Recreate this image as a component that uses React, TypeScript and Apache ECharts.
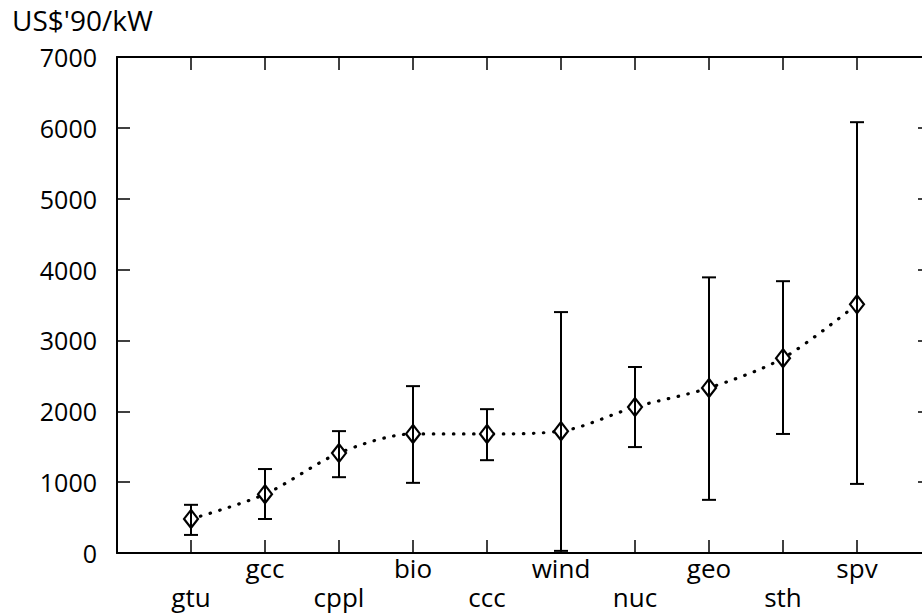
import React, { useEffect, useRef } from "react";
import * as echarts from "echarts";

const categories = ["gtu", "gcc", "cppl", "bio", "ccc", "wind", "nuc", "geo", "sth", "spv"];
const means = [480, 830, 1410, 1680, 1680, 1720, 2060, 2330, 2750, 3510];
const lows = [255, 480, 1070, 990, 1310, 30, 1495, 750, 1680, 975];
const highs = [680, 1185, 1720, 2355, 2030, 3400, 2625, 3890, 3836, 6080];
const yTicks = [0, 1000, 2000, 3000, 4000, 5000, 6000, 7000];
const yUnit = "US$'90/kW";

const FONT = "Open Sans";

export default function App() {
  const ref = useRef<HTMLDivElement>(null);
  useEffect(() => {
    if (!ref.current) return;
    const chart = echarts.init(ref.current, null, { renderer: "svg" });
    const axisCats = ["", ...categories, " "];
    const lineData = ["-", ...means, "-"];
    const errData = categories.map((_, i) => [i + 1, lows[i], highs[i]]);
    const axisLine = { show: true, onZero: false, lineStyle: { color: "#000", width: 2 } };
    const tick = { show: true, inside: true, length: 13, lineStyle: { color: "#000", width: 1.5 } };
    chart.setOption({
      animation: false,
      backgroundColor: "#fff",
      textStyle: { fontFamily: FONT },
      grid: { left: 117, right: 9, top: 57, bottom: 61 },
      graphic: [
        {
          type: "text",
          left: 12,
          top: 6,
          style: { text: yUnit, font: `28px "${FONT}"`, fill: "#000" },
        },
      ],
      xAxis: [
        {
          type: "category",
          data: axisCats,
          boundaryGap: false,
          position: "bottom",
          axisLine,
          axisTick: tick,
          splitLine: { show: false },
          axisLabel: {
            interval: 0,
            margin: 0,
            color: "#000",
            fontSize: 26,
            lineHeight: 29,
            fontFamily: FONT,
            formatter: (v: string, idx: number) => {
              const i = idx - 1;
              if (i < 0 || i >= categories.length) return "";
              return i % 2 === 0 ? "\n" + v : v;
            },
          },
        },
        {
          type: "category",
          data: axisCats,
          boundaryGap: false,
          position: "top",
          axisLine,
          axisTick: tick,
          axisLabel: { show: false },
          splitLine: { show: false },
        },
      ],
      yAxis: [
        {
          type: "value",
          min: 0,
          max: 7000,
          interval: 1000,
          position: "left",
          axisLine,
          axisTick: tick,
          splitLine: { show: false },
          axisLabel: {
            margin: 20,
            color: "#000",
            fontSize: 25,
            fontFamily: FONT,
            formatter: (v: number) => (yTicks.includes(v) ? String(v) : ""),
          },
        },
        {
          type: "value",
          min: 0,
          max: 7000,
          interval: 1000,
          position: "right",
          axisLine,
          axisTick: tick,
          splitLine: { show: false },
          axisLabel: { show: false },
        },
      ],
      series: [
        {
          type: "line",
          data: lineData,
          smooth: 0.3,
          z: 2,
          symbol: "diamond",
          symbolSize: [14, 18],
          showSymbol: true,
          itemStyle: { color: "#fff", borderColor: "#000", borderWidth: 2.2 },
          lineStyle: { color: "#000", width: 3.2, type: [0.5, 9.5], cap: "round" },
        },
        {
          type: "custom",
          z: 3,
          data: errData,
          renderItem: (params: any, api: any) => {
            const x = api.value(0);
            const lo = api.coord([x, api.value(1)]);
            const hi = api.coord([x, api.value(2)]);
            const hw = 7;
            const st = { stroke: "#000", lineWidth: 2 };
            return {
              type: "group",
              children: [
                { type: "line", shape: { x1: lo[0], y1: lo[1], x2: hi[0], y2: hi[1] }, style: st },
                { type: "line", shape: { x1: lo[0] - hw, y1: lo[1], x2: lo[0] + hw, y2: lo[1] }, style: st },
                { type: "line", shape: { x1: hi[0] - hw, y1: hi[1], x2: hi[0] + hw, y2: hi[1] }, style: st },
              ],
            };
          },
        },
      ],
    });
    return () => chart.dispose();
  }, []);
  return (
    <div style={{ position: "absolute", left: 0, top: 0, width: 922, height: 614, overflow: "hidden", background: "#fff" }}>
      <div ref={ref} style={{ width: 940, height: 614 }} />
    </div>
  );
}
